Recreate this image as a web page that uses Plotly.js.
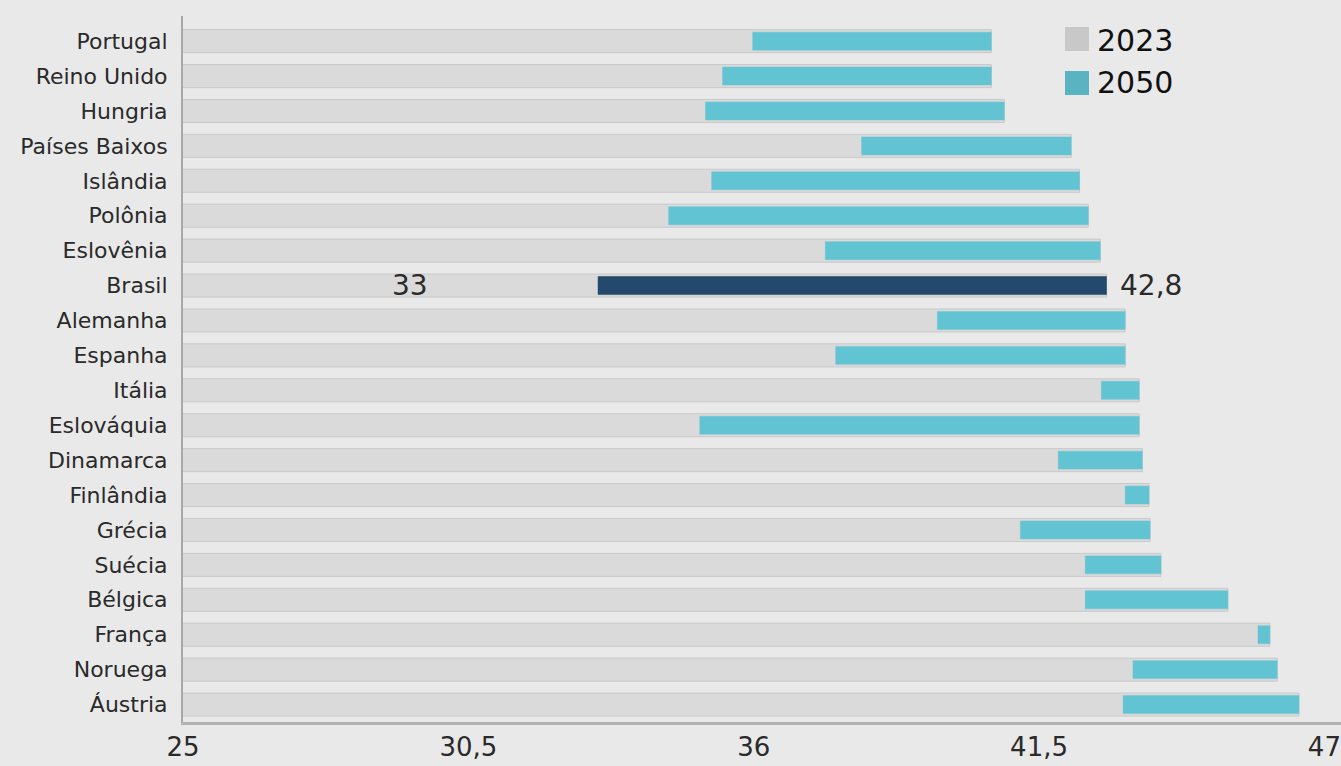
<!DOCTYPE html>
<html>
<head>
<meta charset="utf-8">
<script src="https://cdn.plot.ly/plotly-3.0.1.min.js"></script>
<style>
  html, body { margin: 0; padding: 0; background: #e9e9e9; }
  #chart { width: 1341px; height: 766px; }
</style>
</head>
<body>
<div id="chart"></div>
<script>
// Countries, top to bottom
const countries = [
  'Portugal', 'Reino Unido', 'Hungria', 'Países Baixos', 'Islândia',
  'Polônia', 'Eslovênia', 'Brasil', 'Alemanha', 'Espanha',
  'Itália', 'Eslováquia', 'Dinamarca', 'Finlândia', 'Grécia',
  'Suécia', 'Bélgica', 'França', 'Noruega', 'Áustria'
];

// Values for 2023 and 2050
const v2023 = [
  35.98, 35.40, 35.07, 38.08, 35.19,
  34.36, 37.38, 33, 39.54, 37.58,
  42.70, 34.96, 41.87, 43.16, 41.14,
  42.39, 42.39, 45.72, 43.31, 43.12
];
const v2050 = [
  40.58, 40.58, 40.83, 42.12, 42.28,
  42.45, 42.68, 42.8, 43.16, 43.16,
  43.43, 43.43, 43.49, 43.62, 43.64,
  43.85, 45.14, 45.95, 46.09, 46.51
];

// Axis ticks
const tickValues = [25, 30.5, 36, 41.5, 47];
const tickLabels = ['25', '30,5', '36', '41,5', '47'];

const highlight = 'Brasil';
const hi = countries.indexOf(highlight);

const GRAY = '#dadada';
const GRAY_EDGE = '#c9c9c9';
const CYAN = '#62c3d3';
const DARK = '#234a6c';
const LEG_GRAY = '#c8c8c8';
const LEG_CYAN = '#5ab3c1';
const FONT = 'DejaVu Sans, sans-serif';

const fmt = v => String(v).replace('.', ',');

const track = {
  type: 'bar', orientation: 'h',
  y: countries, x: v2050,
  width: 0.66,
  marker: { color: GRAY, line: { color: GRAY_EDGE, width: 1 } },
  hoverinfo: 'skip', showlegend: false
};

const bars2023 = {
  type: 'bar', orientation: 'h', name: '2023',
  y: countries, x: v2023,
  width: 0.56,
  marker: { color: GRAY },
  hovertemplate: '%{y}: %{x}<extra>2023</extra>'
};

const bars2050 = {
  type: 'bar', orientation: 'h', name: '2050',
  y: countries,
  base: v2023,
  x: v2050.map((v, i) => v - v2023[i]),
  width: 0.515,
  marker: {
    color: countries.map(c => c === highlight ? DARK : CYAN),
    line: { color: countries.map(c => c === highlight ? '#1d3f5e' : '#6cc7d5'), width: 0.5 }
  },
  customdata: v2050,
  hovertemplate: '%{y}: %{customdata}<extra>2050</extra>'
};

// Plot area in pixels, used to place the legend boxes in paper units
const L = 183, R = 1341, T = 16, B = 722;
const px = x => (x - L) / (R - L);
const py = y => (B - y) / (B - T);

const layout = {
  width: 1341, height: 766,
  paper_bgcolor: '#e9e9e9', plot_bgcolor: '#e9e9e9',
  margin: { l: L, r: 1341 - R, t: T, b: 766 - B },
  barmode: 'overlay',
  showlegend: false,
  font: { family: FONT, color: '#2a2a2a' },
  xaxis: {
    range: [25, 47.32],
    tickvals: tickValues, ticktext: tickLabels,
    tickfont: { family: FONT, size: 26, color: '#2a2a2a' },
    ticks: '', ticklen: 0,
    showgrid: false, zeroline: false,
    showline: true, linecolor: '#b3b3b3', linewidth: 3
  },
  yaxis: {
    type: 'category',
    categoryorder: 'array', categoryarray: countries,
    range: [19.5, -0.72], autorange: false,
    tickfont: { family: FONT, size: 22, color: '#2a2a2a' },
    ticks: 'outside', ticklen: 9, tickcolor: 'rgba(0,0,0,0)',
    showgrid: false, zeroline: false,
    showline: true, linecolor: '#a8a8a8', linewidth: 2
  },
  shapes: [
    { type: 'rect', xref: 'paper', yref: 'paper', layer: 'above',
      x0: px(1065), x1: px(1089), y0: py(51), y1: py(27),
      fillcolor: LEG_GRAY, line: { width: 0 } },
    { type: 'rect', xref: 'paper', yref: 'paper', layer: 'above',
      x0: px(1065), x1: px(1089), y0: py(95), y1: py(71),
      fillcolor: LEG_CYAN, line: { width: 0 } }
  ],
  annotations: [
    { xref: 'paper', yref: 'paper', x: px(1095), y: py(40),
      xanchor: 'left', yanchor: 'middle', showarrow: false,
      text: '2023', font: { family: FONT, size: 30, color: '#111111' } },
    { xref: 'paper', yref: 'paper', x: px(1095), y: py(83),
      xanchor: 'left', yanchor: 'middle', showarrow: false,
      text: '2050', font: { family: FONT, size: 30, color: '#111111' } },
    { xref: 'x', yref: 'y', x: v2023[hi], y: countries[hi],
      xanchor: 'right', yanchor: 'middle', xshift: -168, showarrow: false,
      text: fmt(v2023[hi]), font: { family: FONT, size: 28, color: '#2a2a2a' } },
    { xref: 'x', yref: 'y', x: v2050[hi], y: countries[hi],
      xanchor: 'left', yanchor: 'middle', xshift: 12, showarrow: false,
      text: fmt(v2050[hi]), font: { family: FONT, size: 28, color: '#2a2a2a' } }
  ]
};

Plotly.newPlot('chart', [track, bars2023, bars2050], layout, { displayModeBar: false, staticPlot: true });
</script>
</body>
</html>
